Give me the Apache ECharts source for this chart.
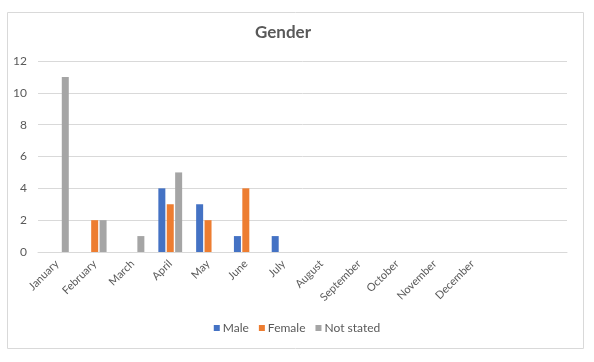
<!DOCTYPE html>
<html><head><meta charset="utf-8">
<script src="https://cdn.jsdelivr.net/npm/echarts@6/dist/echarts.min.js"></script>
<style>html,body{margin:0;padding:0;background:#fff}#c{width:594px;height:362px}</style>
</head><body><div id="c"></div>
<script>
const categories = ['January','February','March','April','May','June','July','August','September','October','November','December','',''];
const male = [null,null,null,4,3,1,1,null,null,null,null,null,null,null];
const female = [null,2,null,3,2,4,null,null,null,null,null,null,null,null];
const notStated = [11,2,1,5,null,null,null,null,null,null,null,null,null,null];
const yTicks = {min:0,max:12,interval:2};

const font = 'Lato, "Open Sans", sans-serif';
const txt = '#595959';
const chart = echarts.init(document.getElementById('c'), null, {renderer:'canvas'});
chart.setOption({
  animation:false,
  textStyle:{fontFamily:font},
  graphic:[{type:'rect',shape:{x:7.5,y:12.5,width:576,height:336},style:{fill:'none',stroke:'#D9D9D9',lineWidth:1},silent:true}],
  title:{text:'Gender',left:255,top:24,itemGap:0,padding:0,textStyle:{fontFamily:font,fontSize:17,fontWeight:'bold',color:txt}},
  legend:{bottom:23,left:'center',itemWidth:6,itemHeight:6,itemGap:10,icon:'rect',
    textStyle:{fontFamily:font,fontSize:12,color:txt,padding:[0,0,0,-2]}},
  grid:{left:38,right:27,top:61,bottom:110,containLabel:false},
  xAxis:{type:'category',data:categories,
    axisLine:{lineStyle:{color:'#D9D9D9'}},axisTick:{show:false},
    axisLabel:{interval:0,rotate:45,color:txt,fontSize:11,fontFamily:font,margin:10}},
  yAxis:{type:'value',min:yTicks.min,max:yTicks.max,interval:yTicks.interval,
    axisLine:{show:false},axisTick:{show:false},
    splitLine:{lineStyle:{color:'#D9D9D9'}},
    axisLabel:{color:txt,fontSize:12,fontFamily:font,margin:11}},
  series:[
    {name:'Male',type:'bar',data:male,barWidth:7,barGap:'20%',itemStyle:{color:'#4472C4'}},
    {name:'Female',type:'bar',data:female,barWidth:7,barGap:'20%',itemStyle:{color:'#ED7D31'}},
    {name:'Not stated',type:'bar',data:notStated,barWidth:7,barGap:'20%',itemStyle:{color:'#A5A5A5'}}
  ]
});
</script></body></html>
